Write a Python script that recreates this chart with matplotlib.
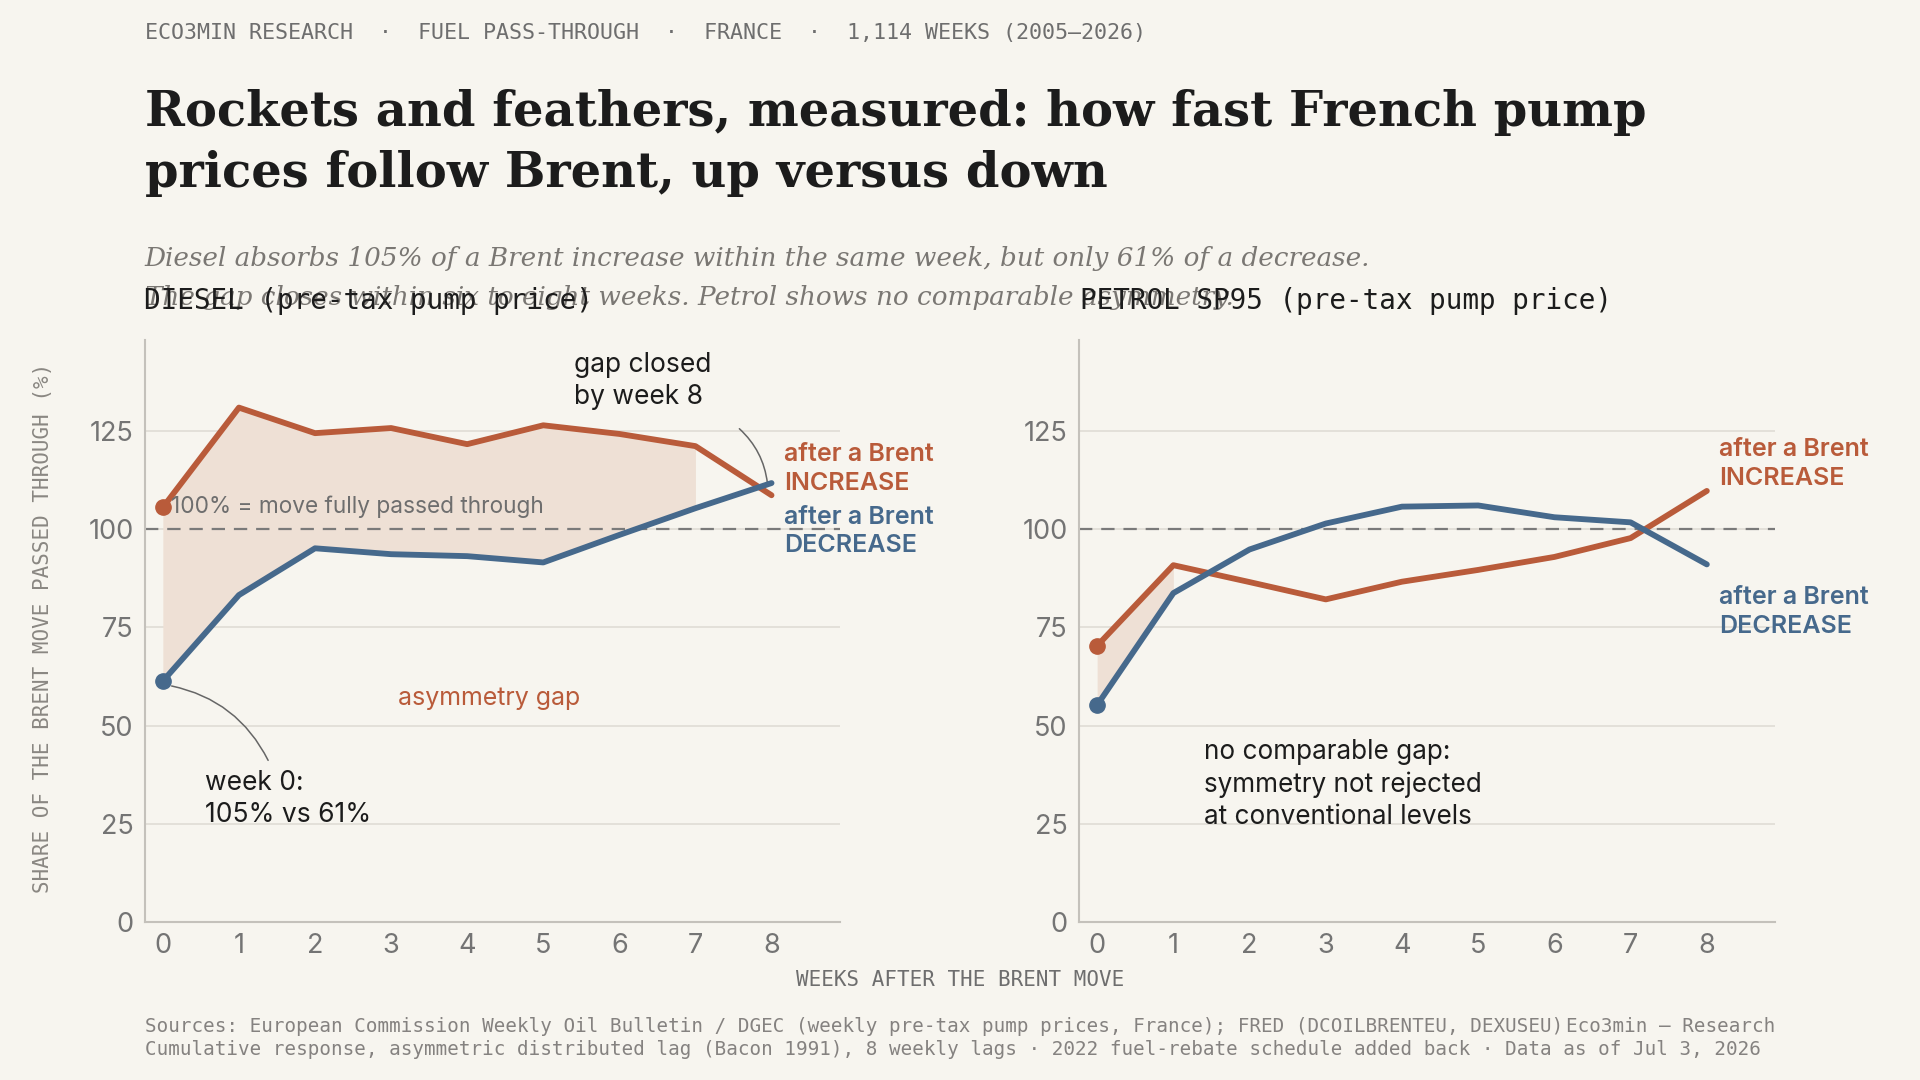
import matplotlib
matplotlib.use("Agg")
import matplotlib.pyplot as plt

# weeks after the Brent move
weeks = [0, 1, 2, 3, 4, 5, 6, 7, 8]

# cumulative pass-through (%)
diesel_up = [105.5, 130.9, 124.4, 125.7, 121.6, 126.4, 124.2, 121.1, 108.6]
diesel_down = [61.3, 83.2, 95.1, 93.6, 93.1, 91.5, 98.5, 105.3, 111.7]
petrol_up = [70.3, 90.8, 86.5, 82.1, 86.6, 89.6, 92.9, 97.7, 109.7]
petrol_down = [55.2, 83.7, 94.8, 101.4, 105.7, 106.0, 103.0, 101.7, 91.0]

yticks = [0, 25, 50, 75, 100, 125]

BG = "#F7F5EF"
ORANGE = "#B95B3A"
BLUE = "#46698C"
FILL = "#EEE0D5"
GRID = "#DFDCD5"
SPINE = "#C4C1BB"
GREY = "#6E6E6E"
INK = "#1C1C1C"

SANS = ["Inter", "DejaVu Sans"]
MONO = ["DejaVu Sans Mono"]
SERIF = ["DejaVu Serif"]

fig = plt.figure(figsize=(19.2, 10.8), dpi=100, facecolor=BG)

ax1 = fig.add_axes([0.0753, 0.1463, 0.3622, 0.5385])
ax2 = fig.add_axes([0.5619, 0.1463, 0.3628, 0.5385])


def style_axis(ax):
    ax.set_facecolor(BG)
    ax.set_xlim(-0.24, 8.9)
    ax.set_ylim(0, 148)
    ax.set_yticks(yticks)
    ax.set_xticks(weeks)
    for s in ["top", "right"]:
        ax.spines[s].set_visible(False)
    for s in ["left", "bottom"]:
        ax.spines[s].set_color(SPINE)
        ax.spines[s].set_linewidth(1.5)
    ax.tick_params(length=0, pad=8, labelsize=19.5, labelcolor="#747474")
    for lab in ax.get_xticklabels() + ax.get_yticklabels():
        lab.set_family(SANS)
    ax.grid(axis="y", color=GRID, lw=1.2)
    ax.set_axisbelow(True)
    ax.axhline(100, color="#7A7A7A", lw=1.6, ls=(0, (6, 4)), zorder=2)


def draw_pair(ax, up, down, fill_to):
    xs = weeks[:fill_to + 1]
    ax.fill_between(xs, up[:fill_to + 1], down[:fill_to + 1], color=FILL, lw=0, zorder=1)
    ax.plot(weeks, up, color=ORANGE, lw=4.2, solid_capstyle="round", marker="o",
            markevery=[0], markersize=11, zorder=4)
    ax.plot(weeks, down, color=BLUE, lw=4.2, solid_capstyle="round", marker="o",
            markevery=[0], markersize=11, zorder=4)


def end_label(ax, y, text, color):
    ax.text(8.16, y, text, family=SANS, fontsize=18, fontweight="semibold",
            color=color, va="center", ha="left", linespacing=1.3, clip_on=False)


style_axis(ax1)
style_axis(ax2)
draw_pair(ax1, diesel_up, diesel_down, 7)
draw_pair(ax2, petrol_up, petrol_down, 1)

# diesel annotations
ax1.text(0.11, 105.7, "100% = move fully passed through", family=SANS, fontsize=16.3,
         color=GREY, va="center", ha="left", zorder=5)
ax1.text(5.41, 145, "gap closed\nby week 8", family=SANS, fontsize=19, color=INK,
         va="top", ha="left", linespacing=1.3)
ax1.annotate("", xy=(7.95, 111), xytext=(7.55, 126),
             arrowprops=dict(arrowstyle="-", color="#666666", lw=1.1,
                             connectionstyle="arc3,rad=-0.2"))
ax1.text(0.56, 38.8, "week 0:\n105% vs 61%", family=SANS, fontsize=19, color=INK,
         va="top", ha="left", linespacing=1.3)
ax1.annotate("", xy=(0.08, 60.2), xytext=(1.4, 40.5),
             arrowprops=dict(arrowstyle="-", color="#666666", lw=1.1,
                             connectionstyle="arc3,rad=0.25"))
ax1.text(4.29, 57, "asymmetry gap", family=SANS, fontsize=18, color=ORANGE,
         va="center", ha="center")
end_label(ax1, 115.3, "after a Brent\nINCREASE", ORANGE)
end_label(ax1, 99.4, "after a Brent\nDECREASE", BLUE)

# petrol annotations
end_label(ax2, 116.6, "after a Brent\nINCREASE", ORANGE)
end_label(ax2, 78.9, "after a Brent\nDECREASE", BLUE)
ax2.text(1.40, 46.6, "no comparable gap:\nsymmetry not rejected\nat conventional levels",
         family=SANS, fontsize=18.8, color=INK, va="top", ha="left", linespacing=1.3)

# header
fig.text(0.0753, 0.9694,
         "ECO3MIN RESEARCH  \u00b7  FUEL PASS-THROUGH  \u00b7  FRANCE  \u00b7  1,114 WEEKS (2005\u20132026)",
         family=MONO, fontsize=15.6, color=GREY, va="center", ha="left")
fig.text(0.0753, 1 - 103 / 882, "Rockets and feathers, measured: how fast French pump",
         family=SERIF, fontsize=34.6, fontweight="bold", color=INK, va="baseline")
fig.text(0.0753, 1 - 153 / 882, "prices follow Brent, up versus down",
         family=SERIF, fontsize=34.6, fontweight="bold", color=INK, va="baseline")
fig.text(0.0753, 1 - 217 / 882,
         "Diesel absorbs 105% of a Brent increase within the same week, but only 61% of a decrease.",
         family=SERIF, fontsize=18.9, style="italic", color="#7A7773", va="baseline")
fig.text(0.0753, 1 - 249 / 882,
         "The gap closes within six to eight weeks. Petrol shows no comparable asymmetry.",
         family=SERIF, fontsize=18.9, style="italic", color="#7A7773", va="baseline")

# panel titles
fig.text(118 / 1568, 1 - 246 / 882, "DIESEL (pre-tax pump price)", family=MONO,
         fontsize=19.9, color=INK, va="center", ha="left")
fig.text(882 / 1568, 1 - 246 / 882, "PETROL SP95 (pre-tax pump price)", family=MONO,
         fontsize=19.9, color=INK, va="center", ha="left")

# axis labels
fig.text(35 / 1568, 1 - 513 / 882, "SHARE OF THE BRENT MOVE PASSED THROUGH (%)",
         family=MONO, fontsize=15, color="#8A8782", rotation=90, va="center", ha="center")
fig.text(784 / 1568, 1 - 800 / 882, "WEEKS AFTER THE BRENT MOVE", family=MONO,
         fontsize=15, color=GREY, va="center", ha="center")

# footer
fig.text(0.0753, 1 - 838 / 882,
         "Sources: European Commission Weekly Oil Bulletin / DGEC (weekly pre-tax pump prices, France); FRED (DCOILBRENTEU, DEXUSEU)",
         family=MONO, fontsize=13.9, color="#858280", va="center", ha="left")
fig.text(1450 / 1568, 1 - 838 / 882, "Eco3min \u2014 Research", family=MONO,
         fontsize=13.9, color="#858280", va="center", ha="right")
fig.text(0.0753, 1 - 857 / 882,
         "Cumulative response, asymmetric distributed lag (Bacon 1991), 8 weekly lags \u00b7 2022 fuel-rebate schedule added back \u00b7 Data as of Jul 3, 2026",
         family=MONO, fontsize=13.9, color="#858280", va="center", ha="left")

fig.savefig("out.png", dpi=100, facecolor=BG)
